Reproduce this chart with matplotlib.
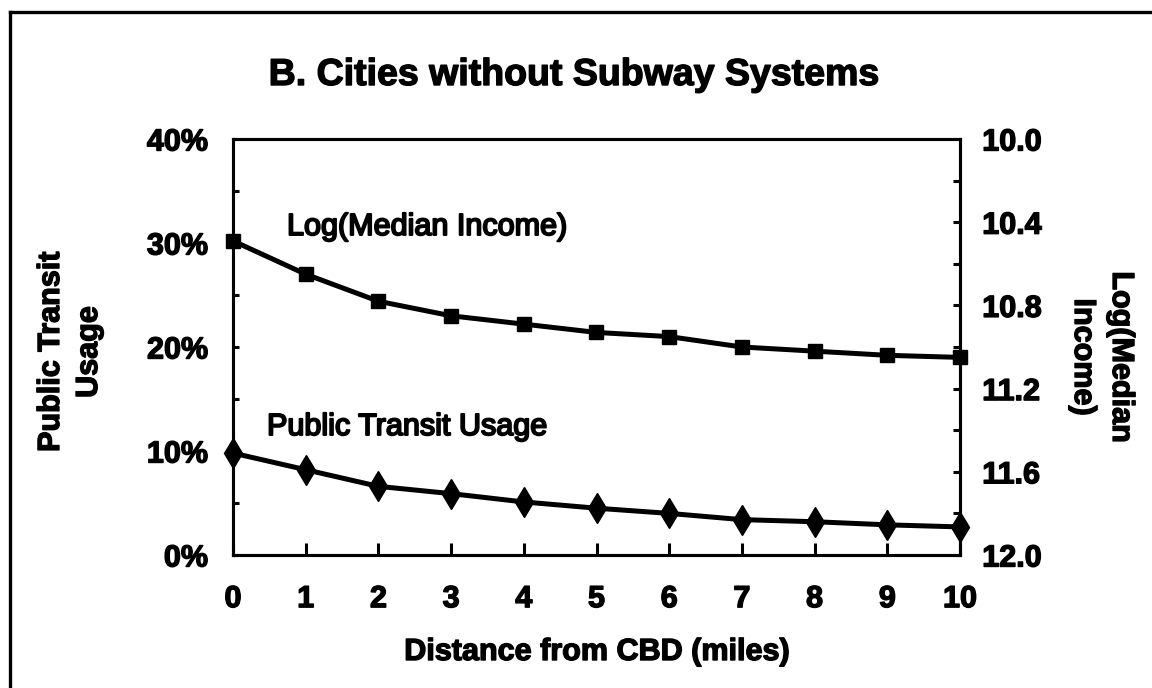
import matplotlib
matplotlib.use("Agg")
import matplotlib.pyplot as plt
from matplotlib.lines import Line2D
from matplotlib.ticker import FixedLocator, FuncFormatter
import matplotlib.patheffects as pe

# ---- data ----
distance = [0, 1, 2, 3, 4, 5, 6, 7, 8, 9, 10]
transit_usage = [9.8, 8.2, 6.6, 5.9, 5.1, 4.5, 4.0, 3.4, 3.2, 2.9, 2.7]      # percent
log_income = [10.49, 10.65, 10.78, 10.85, 10.89, 10.93, 10.95, 11.00, 11.02, 11.04, 11.05]
left_ticks = [0, 10, 20, 30, 40]
left_minor = [5, 15, 25, 35]
right_ticks = [10.0, 10.4, 10.8, 11.2, 11.6, 12.0]
right_minor = [10.2, 10.6, 11.0, 11.4, 11.8]
x_ticks = list(range(0, 11))

title = "B. Cities without Subway Systems"
xlabel = "Distance from CBD (miles)"
ylabel_left = "Public Transit\nUsage"
ylabel_right = "Log(Median\nIncome)"
label_income = "Log(Median Income)"
label_transit = "Public Transit Usage"

plt.rcParams['font.family'] = ['Liberation Sans', 'DejaVu Sans']

W, H = 1152, 688
fig = plt.figure(figsize=(W / 100, H / 100), dpi=100)
fig.patch.set_facecolor('white')

# axes box in pixels: left 233, right 960, top 139, bottom 555
L, R, T, B = 233, 960, 139, 555
ax = fig.add_axes([L / W, 1 - B / H, (R - L) / W, (B - T) / H])
ax2 = ax.twinx()

lw_spine = 2.2
for a in (ax, ax2):
    for s in a.spines.values():
        s.set_linewidth(lw_spine)
        s.set_color('black')
    a.set_facecolor('none')

# lines
ax.plot(distance, transit_usage, color='black', lw=3.6, marker='d', markersize=15,
        markerfacecolor='black', markeredgecolor='black', clip_on=False, zorder=5)
ax2.plot(distance, log_income, color='black', lw=3.6, marker='s', markersize=10.5,
         markerfacecolor='black', markeredgecolor='black', clip_on=False, zorder=5)

ax.set_xlim(0, 10)
ax.set_ylim(0, 40)
ax2.set_ylim(12.0, 10.0)

heavy = [pe.withStroke(linewidth=1.0, foreground='black')]

ax.set_xticks(x_ticks)
ax.set_xticklabels([str(v) for v in x_ticks], fontsize=22, fontweight='bold')
ax.tick_params(axis='x', direction='in', length=9, width=2.2, pad=21)

ax.yaxis.set_major_locator(FixedLocator(left_ticks))
ax.yaxis.set_minor_locator(FixedLocator(left_minor))
ax.yaxis.set_major_formatter(FuncFormatter(lambda v, p: f"{v:.0f}%"))
ax.tick_params(axis='y', which='both', direction='in', length=4, width=2.2, pad=18)
ax.tick_params(axis='y', which='major', labelsize=22)

ax2.yaxis.set_major_locator(FixedLocator(right_ticks))
ax2.yaxis.set_minor_locator(FixedLocator(right_minor))
ax2.yaxis.set_major_formatter(FuncFormatter(lambda v, p: f"{v:.1f}"))
ax2.tick_params(axis='y', which='both', direction='in', length=5, width=2.2, pad=16)
ax2.tick_params(axis='y', which='major', labelsize=22)

fig.canvas.draw()
for lab in ax.get_yticklabels() + ax2.get_yticklabels() + ax.get_xticklabels():
    lab.set_fontweight('bold')
    lab.set_path_effects(heavy)

# in-plot labels
stroke = [pe.withStroke(linewidth=1.4, foreground='black')]
ax.text(0.743, 30.77, label_income, fontsize=22, va='baseline', ha='left',
        path_effects=stroke)
ax.text(0.468, 11.54, label_transit, fontsize=22, va='baseline', ha='left',
        path_effects=stroke)

# titles / axis labels
fig.text(574 / W, 1 - 85 / H, title, fontsize=27, fontweight='bold',
         ha='center', va='baseline', path_effects=heavy)
fig.text((L + R) / 2 / W, 1 - 652 / H, xlabel, fontsize=22, fontweight='bold',
         ha='center', va='center', path_effects=heavy)
fig.text(70 / W, 1 - 352 / H, ylabel_left, fontsize=22, fontweight='bold',
         ha='center', va='center', rotation=90, multialignment='center',
         linespacing=1.35, path_effects=heavy)
fig.text(1102 / W, 1 - 357 / H, ylabel_right, fontsize=22, fontweight='bold',
         ha='center', va='center', rotation=270, multialignment='center',
         linespacing=1.35, path_effects=heavy)

# outer frame (top and left edges visible)
fig.add_artist(Line2D([10 / W, 1.0], [1 - 12 / H, 1 - 12 / H], transform=fig.transFigure,
                      color='black', lw=2.4))
fig.add_artist(Line2D([10 / W, 10 / W], [0, 1 - 12 / H], transform=fig.transFigure,
                      color='black', lw=2.4))

fig.savefig('out.png', dpi=100)
